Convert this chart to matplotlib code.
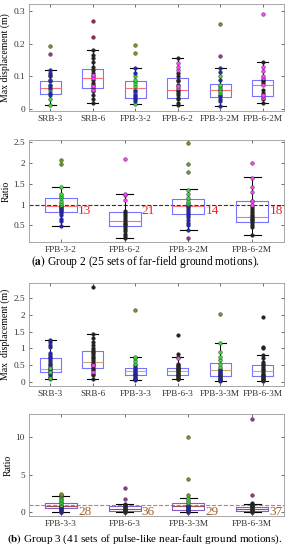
import numpy as np
import matplotlib.pyplot as plt

plt.rcParams['font.family'] = ['Liberation Serif', 'DejaVu Serif']
plt.rcParams['mathtext.fontset'] = 'stix'

# ---- group 2 (far-field) ----
g2_disp_labels = ['SRB-3', 'SRB-6', 'FPB-3-2', 'FPB-6-2', 'FPB-3-2M', 'FPB-6-2M']
# box stats: q1, median, q3, whisker low, whisker high
g2_disp_q1 = [0.047, 0.065, 0.035, 0.033, 0.038, 0.040]
g2_disp_med = [0.065, 0.094, 0.065, 0.059, 0.058, 0.074]
g2_disp_q3 = [0.085, 0.122, 0.085, 0.095, 0.076, 0.090]
g2_disp_lo = [0.012, 0.018, 0.016, 0.013, 0.010, 0.020]
g2_disp_hi = [0.120, 0.180, 0.125, 0.157, 0.126, 0.143]
# points per column: (colour, values)
g2_disp_pts = [
    [('g', [0.012, 0.03, 0.06, 0.07]), ('b', [0.045, 0.05, 0.065, 0.075, 0.085, 0.09, 0.1, 0.105, 0.11, 0.12]),
     ('o', [0.192]), ('p', [0.168])],
    [('k', [0.018, 0.03, 0.045, 0.055, 0.065, 0.075, 0.08, 0.09, 0.1, 0.11, 0.12, 0.13, 0.145, 0.155, 0.165, 0.18]),
     ('m', [0.06, 0.07, 0.095, 0.105]), ('r', [0.22, 0.268])],
    [('g', [0.016, 0.05, 0.06, 0.07, 0.08, 0.09, 0.1]), ('b', [0.025, 0.03, 0.035, 0.04, 0.045, 0.055, 0.11, 0.125]),
     ('o', [0.17, 0.196])],
    [('k', [0.013, 0.02, 0.03, 0.035, 0.045, 0.05, 0.055, 0.06, 0.075, 0.085, 0.09, 0.1, 0.11, 0.157]),
     ('m', [0.065, 0.07, 0.12, 0.13, 0.14])],
    [('b', [0.01, 0.025, 0.03, 0.04, 0.045, 0.06, 0.09, 0.113, 0.126]), ('g', [0.05, 0.055, 0.065, 0.07, 0.075, 0.1]),
     ('o', [0.26]), ('p', [0.162])],
    [('k', [0.02, 0.03, 0.05, 0.06, 0.08, 0.085, 0.09, 0.143]),
     ('m', [0.035, 0.04, 0.045, 0.075, 0.095, 0.1, 0.115, 0.13, 0.29])],
]

g2_ratio_labels = ['FPB-3-2', 'FPB-6-2', 'FPB-3-2M', 'FPB-6-2M']
g2_ratio_q1 = [0.83, 0.49, 0.78, 0.58]
g2_ratio_med = [0.97, 0.61, 0.98, 0.70]
g2_ratio_q3 = [1.17, 0.83, 1.14, 1.09]
g2_ratio_lo = [0.48, 0.20, 0.40, 0.28]
g2_ratio_hi = [1.42, 1.26, 1.37, 1.67]
g2_ratio_count = ['13', '21', '14', '18']
g2_ratio_pts = [
    [('b', [0.48, 0.6, 0.65, 0.75, 0.8, 0.85, 0.88, 0.9, 0.93, 0.95, 0.97]),
     ('g', [1.0, 1.05, 1.1, 1.15, 1.2, 1.25, 1.42]), ('o', [1.97, 2.08])],
    [('k', [0.2, 0.25, 0.3, 0.37, 0.42, 0.47, 0.5, 0.53, 0.57, 0.6, 0.65, 0.7, 0.75, 0.8, 0.85]),
     ('m', [1.12, 1.23, 1.26, 2.1])],
    [('b', [0.4, 0.5, 0.55, 0.62, 0.7, 0.75, 0.8, 0.85, 0.9, 0.95, 0.98]),
     ('g', [1.02, 1.05, 1.1, 1.15, 1.25, 1.35]), ('o', [1.8, 1.97, 2.48]), ('p', [0.2])],
    [('k', [0.28, 0.45, 0.5, 0.55, 0.6, 0.62, 0.65, 0.68, 0.72, 0.75, 0.8, 0.85, 0.9, 0.95]),
     ('m', [1.0, 1.08, 1.1, 1.3, 1.42, 1.65, 2.0])],
]

# ---- group 3 (pulse-like near-fault) ----
g3_disp_labels = ['SRB-3', 'SRB-6', 'FPB-3-3', 'FPB-6-3', 'FPB-3-3M', 'FPB-6-3M']
g3_disp_q1 = [0.30, 0.42, 0.22, 0.20, 0.17, 0.18]
g3_disp_med = [0.40, 0.60, 0.32, 0.32, 0.36, 0.32]
g3_disp_q3 = [0.70, 0.92, 0.43, 0.42, 0.58, 0.52]
g3_disp_lo = [0.08, 0.08, 0.05, 0.08, 0.02, 0.04]
g3_disp_hi = [1.25, 1.44, 0.73, 0.75, 1.16, 0.80]
g3_disp_pts = [
    [('b', [0.15, 0.2, 0.25, 0.3, 0.35, 0.4, 0.45, 0.5, 0.55, 0.6, 0.65, 0.7, 0.75, 0.8, 0.85, 1.05, 1.1, 1.2, 1.25]),
     ('g', [0.08, 0.12, 0.3, 0.42])],
    [('k', [0.08, 0.2, 0.25, 0.35, 0.4, 0.45, 0.5, 0.55, 0.6, 0.65, 0.7, 0.75, 0.8, 0.85, 0.9, 0.95, 1.0,
            1.1, 1.2, 1.3, 1.44, 2.83]), ('m', [0.3, 0.5])],
    [('b', [0.05, 0.08, 0.1, 0.12, 0.15, 0.2, 0.22, 0.25, 0.28, 0.3, 0.35, 0.4, 0.45, 0.5]),
     ('g', [0.55, 0.62, 0.7, 0.73]), ('o', [2.15])],
    [('k', [0.08, 0.1, 0.12, 0.15, 0.18, 0.2, 0.22, 0.25, 0.28, 0.3, 0.32, 0.35, 0.38, 0.4, 0.42, 0.45,
            0.48, 0.5, 0.55, 0.75, 0.82, 1.4]), ('m', [0.7])],
    [('b', [0.02, 0.05, 0.08, 0.1, 0.12, 0.15, 0.18, 0.2, 0.22, 0.25, 0.28, 0.3, 0.33, 0.36, 0.4]),
     ('g', [0.45, 0.55, 0.65, 0.75, 0.9, 1.16]), ('o', [2.02])],
    [('k', [0.04, 0.06, 0.08, 0.1, 0.12, 0.15, 0.18, 0.2, 0.22, 0.25, 0.3, 0.35, 0.4, 0.45, 0.5, 0.55,
            0.6, 0.7, 0.8, 1.0, 1.05, 1.95])],
]

g3_ratio_labels = ['FPB-3-3', 'FPB-6-3', 'FPB-3-3M', 'FPB-6-3M']
g3_ratio_q1 = [0.55, 0.20, 0.30, 0.20]
g3_ratio_med = [0.90, 0.50, 0.85, 0.45]
g3_ratio_q3 = [1.20, 0.85, 1.20, 0.70]
g3_ratio_lo = [0.05, 0.05, 0.02, 0.05]
g3_ratio_hi = [2.15, 1.10, 1.90, 1.10]
g3_ratio_count = ['28', '36', '29', '37']
g3_ratio_pts = [
    [('b', [0.05, 0.1, 0.2, 0.3, 0.4, 0.5, 0.6, 0.7, 0.8, 0.9]),
     ('g', [1.0, 1.2, 1.4, 1.6, 1.8, 2.0, 2.15]), ('o', [2.3, 2.45])],
    [('k', [0.05, 0.1, 0.15, 0.2, 0.3, 0.4, 0.5, 0.6, 0.7, 0.8, 0.9, 1.0, 1.1]), ('p', [1.8, 3.2])],
    [('b', [0.02, 0.1, 0.2, 0.3, 0.4, 0.5, 0.6, 0.7, 0.8, 0.9, 1.0]),
     ('g', [1.2, 1.4, 1.6, 1.9]), ('o', [2.3, 4.5, 10.0])],
    [('k', [0.05, 0.1, 0.2, 0.3, 0.4, 0.5, 0.6, 0.7, 0.8, 0.9, 1.0, 1.1, 1.3]), ('p', [2.3, 12.5])],
]

pt_colors = {'g': '#33dd33', 'b': '#2020d0', 'm': '#ff40ff', 'k': '#202020',
             'o': '#6a9a20', 'p': '#a03090', 'r': '#a02050'}

W, H = 290, 550
fig = plt.figure(figsize=(W / 100, H / 100), dpi=100)


def add_ax(top, bottom):
    return fig.add_axes([29 / W, 1 - bottom / H, 255 / W, (bottom - top) / H])


def panel(ax, labels, q1, med, q3, lo, hi, pts, box_c, med_c):
    n = len(labels)
    stats = [dict(q1=q1[i], med=med[i], q3=q3[i], whislo=lo[i], whishi=hi[i], fliers=[])
             for i in range(n)]
    pos = np.arange(1, n + 1)
    ax.bxp(stats, positions=pos, widths=0.5, showfliers=False,
           boxprops=dict(color=box_c, lw=0.8),
           medianprops=dict(color=med_c, lw=0.8),
           whiskerprops=dict(color='k', lw=0.7),
           capprops=dict(color='k', lw=0.8), capwidths=0.27)
    for i, groups in enumerate(pts):
        for c, vals in groups:
            ax.scatter(np.full(len(vals), pos[i]), vals, s=7, color=pt_colors[c],
                       edgecolors='#303030', linewidths=0.3, zorder=3)
    ax.set_xlim(0.5, n + 0.5)
    ax.set_xticks(pos)
    ax.set_xticklabels(labels, fontsize=6.7)
    ax.tick_params(direction='in', top=True, right=True, length=2, width=0.5,
                   labelsize=6.7, colors='#333333', pad=3)
    for s in ax.spines.values():
        s.set_color('#999999')
        s.set_linewidth(0.6)
    return pos


ax1 = add_ax(4, 111)
panel(ax1, g2_disp_labels, g2_disp_q1, g2_disp_med, g2_disp_q3, g2_disp_lo, g2_disp_hi,
      g2_disp_pts, '#7575ff', '#ff7070')
ax1.set_ylim(-0.005, 0.32)
ax1.set_yticks([0, 0.1, 0.2, 0.3])
ax1.set_yticklabels(['0', '0.1', '0.2', '0.3'])
ax1.set_ylabel('Max displacement (m)', fontsize=7, labelpad=2)

ax2 = add_ax(140, 242)
pos = panel(ax2, g2_ratio_labels, g2_ratio_q1, g2_ratio_med, g2_ratio_q3, g2_ratio_lo, g2_ratio_hi,
            g2_ratio_pts, '#7575ff', '#ff7070')
ax2.axhline(1, color='#333333', ls='--', lw=0.8, zorder=1)
ax2.set_ylim(0.1, 2.56)
ax2.set_yticks([0.5, 1, 1.5, 2, 2.5])
ax2.set_yticklabels(['0.5', '1', '1.5', '2', '2.5'])
ax2.set_ylabel('Ratio', fontsize=7, labelpad=2)
for i, t in enumerate(g2_ratio_count):
    ax2.text(pos[i] + 0.27, 0.84, t, color='#ee2020', fontsize=9.5, va='center')
fig.text(0.5, 1 - 262 / H, r'$\mathbf{(a)}$ Group 2 (25 sets of far-field ground motions).',
         ha='center', va='center', fontsize=8.3)

ax3 = add_ax(283, 386)
panel(ax3, g3_disp_labels, g3_disp_q1, g3_disp_med, g3_disp_q3, g3_disp_lo, g3_disp_hi,
      g3_disp_pts, '#7575ff', '#d0a878')
ax3.set_ylim(-0.12, 2.95)
ax3.set_yticks([0, 0.5, 1, 1.5, 2, 2.5])
ax3.set_yticklabels(['0', '0.5', '1', '1.5', '2', '2.5'])
ax3.set_ylabel('Max  displacement (m)', fontsize=7, labelpad=2)

ax4 = add_ax(414, 516)
pos = panel(ax4, g3_ratio_labels, g3_ratio_q1, g3_ratio_med, g3_ratio_q3, g3_ratio_lo, g3_ratio_hi,
            g3_ratio_pts, '#8060d0', '#a05050')
ax4.axhline(1, color='#ff6070', ls='--', lw=0.8, zorder=1)
ax4.set_ylim(-0.5, 13.1)
ax4.set_yticks([0, 5, 10])
ax4.set_ylabel('Ratio', fontsize=7, labelpad=2)
for i, t in enumerate(g3_ratio_count):
    ax4.text(pos[i] + 0.27, 0.0, t, color='#a0602a', fontsize=9.5, va='center')
fig.text(0.5, 1 - 539 / H, r'$\mathbf{(b)}$ Group 3 (41 sets of pulse-like near-fault ground motions).',
         ha='center', va='center', fontsize=8)

fig.savefig('out.png', dpi=100)
